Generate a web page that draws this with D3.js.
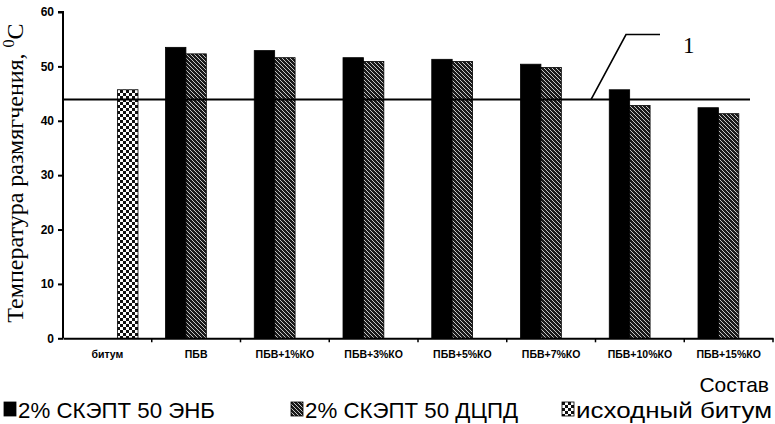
<!DOCTYPE html>
<html>
<head>
<meta charset="utf-8">
<script src="https://cdn.jsdelivr.net/npm/d3@7/dist/d3.min.js"></script>
<style>
  html, body { margin: 0; padding: 0; background: #fff; }
  svg { display: block; }
</style>
</head>
<body>
<svg id="chart" width="775" height="424"></svg>
<script>
// Составы и температура размягчения, °C
const categories = ["битум", "ПБВ", "ПБВ+1%КО", "ПБВ+3%КО", "ПБВ+5%КО", "ПБВ+7%КО", "ПБВ+10%КО", "ПБВ+15%КО"];
const seriesNames = ["2% СКЭПТ 50 ЭНБ", "2% СКЭПТ 50 ДЦПД", "исходный битум"];
const valuesENB  = [null, 53.5, 52.9, 51.6, 51.3, 50.4, 45.7, 42.4];
const valuesDCPD = [null, 52.3, 51.6, 50.9, 50.9, 49.8, 42.8, 41.3];
const valuesBase = [45.7, null, null, null, null, null, null, null];
const yTicks = [0, 10, 20, 30, 40, 50, 60];
const referenceLevel = 43.9;   // линия 1
const referenceLabel = "1";

const svg = d3.select("#chart");
const margin = { left: 63, right: 2, top: 12 };
const W = 775;
const plotBottom = 338.3;

const x = d3.scaleBand().domain(categories).range([margin.left, W - margin.right]);
const y = d3.scaleLinear().domain([0, 60]).range([plotBottom, margin.top]);
const groupPad = 0.155;
const inner = d3.scaleBand().domain([0, 1, 2])
  .range([x.bandwidth() * groupPad, x.bandwidth() * (1 - groupPad)]);

// Заливки: сплошная, штриховка, шахматка
const defs = svg.append("defs");
const hatch = defs.append("pattern").attr("id", "hatch").attr("patternUnits", "userSpaceOnUse")
  .attr("width", 4).attr("height", 4);
hatch.append("rect").attr("width", 4).attr("height", 4).attr("fill", "#1a1a1a");
hatch.append("path").attr("d", "M-1,-1 L5,5 M-1,3 L1,5 M3,-1 L5,1")
  .attr("stroke", "#d8d8d8").attr("stroke-width", 0.9);

const checker = defs.append("pattern").attr("id", "checker").attr("patternUnits", "userSpaceOnUse")
  .attr("width", 6).attr("height", 6);
checker.append("rect").attr("width", 6).attr("height", 6).attr("fill", "#fff");
checker.append("rect").attr("x", 0).attr("y", 0).attr("width", 3).attr("height", 3).attr("fill", "#111");
checker.append("rect").attr("x", 3).attr("y", 3).attr("width", 3).attr("height", 3).attr("fill", "#111");

const fills = ["#000", "url(#hatch)", "url(#checker)"];
const series = [valuesENB, valuesDCPD, valuesBase];

// Столбцы
series.forEach((vals, si) => {
  svg.append("g").selectAll("rect")
    .data(categories.map((c, i) => ({ c, v: vals[i] })).filter(d => d.v != null))
    .join("rect")
    .attr("x", d => x(d.c) + inner(si))
    .attr("width", inner.bandwidth())
    .attr("y", d => y(d.v))
    .attr("height", d => plotBottom - y(d.v))
    .attr("fill", fills[si])
    .attr("stroke", "#000")
    .attr("stroke-width", 0.8);
});

// Ось Y
const yAxis = svg.append("g").attr("transform", `translate(${margin.left},0)`)
  .call(d3.axisLeft(y).tickValues(yTicks).tickSize(5).tickPadding(4));
yAxis.select(".domain").attr("stroke-width", 2).attr("d", `M-5,${y(60)}H0V${plotBottom}`);
yAxis.selectAll(".tick line").attr("stroke-width", 2);
yAxis.selectAll("text").attr("font-family", "Liberation Sans, Arial, sans-serif")
  .attr("font-weight", "bold").attr("font-size", 12).attr("fill", "#000");

// Ось X
const xAxis = svg.append("g").attr("transform", `translate(0,${plotBottom})`)
  .call(d3.axisBottom(x).tickSize(0).tickPadding(12));
xAxis.select(".domain").attr("stroke-width", 2);
xAxis.selectAll("text").attr("font-family", "Liberation Sans, Arial, sans-serif")
  .attr("font-weight", "bold").attr("font-size", 10.5).attr("fill", "#000");
// деления на границах категорий
svg.append("g").selectAll("line")
  .data(categories.slice(1).concat(["__end"]))
  .join("line")
  .attr("x1", d => d === "__end" ? W - margin.right : x(d))
  .attr("x2", d => d === "__end" ? W - margin.right : x(d))
  .attr("y1", plotBottom).attr("y2", plotBottom + 4)
  .attr("stroke", "#000").attr("stroke-width", 1.5);

// Линия 1 и выноска
svg.append("line")
  .attr("x1", margin.left).attr("x2", 750)
  .attr("y1", y(referenceLevel)).attr("y2", y(referenceLevel))
  .attr("stroke", "#000").attr("stroke-width", 2);
svg.append("path")
  .attr("d", `M591,${y(referenceLevel)} L626,34.5 L660,34.5`)
  .attr("fill", "none").attr("stroke", "#000").attr("stroke-width", 1.6);
svg.append("text").attr("x", 683).attr("y", 53)
  .attr("font-family", "Liberation Serif, Times New Roman, serif")
  .attr("font-size", 23).attr("fill", "#000").text(referenceLabel);

// Подпись оси Y
const yLabel = svg.append("text")
  .attr("transform", `translate(23,173) rotate(-90)`)
  .attr("text-anchor", "middle")
  .attr("font-family", "Liberation Serif, Times New Roman, serif")
  .attr("font-size", 24).attr("fill", "#000");
yLabel.append("tspan").text("Температура размягчения, ");
yLabel.append("tspan").attr("font-size", 16).attr("dy", -9).text("0");
yLabel.append("tspan").attr("dy", 9).text("C");

// Подпись оси X
svg.append("text").attr("x", 769).attr("y", 392).attr("text-anchor", "end")
  .attr("font-family", "Liberation Sans, Arial, sans-serif")
  .attr("font-size", 21).attr("fill", "#000").text("Состав");

// Легенда
const legendX = [4, 291, 562];
const legendLen = [197, 213, 196];
const legend = svg.append("g");
seriesNames.forEach((name, i) => {
  const g = legend.append("g").attr("transform", `translate(${legendX[i]},0)`);
  g.append("rect").attr("x", 0).attr("y", 402).attr("width", 12).attr("height", 14)
    .attr("fill", fills[i]).attr("stroke", "#000").attr("stroke-width", 0.8);
  g.append("text").attr("x", 14).attr("y", 418)
    .attr("font-family", "Liberation Sans, Arial, sans-serif")
    .attr("font-size", 22).attr("textLength", legendLen[i]).attr("lengthAdjust", "spacingAndGlyphs")
    .attr("fill", "#000").text(name);
});
</script>
</body>
</html>
